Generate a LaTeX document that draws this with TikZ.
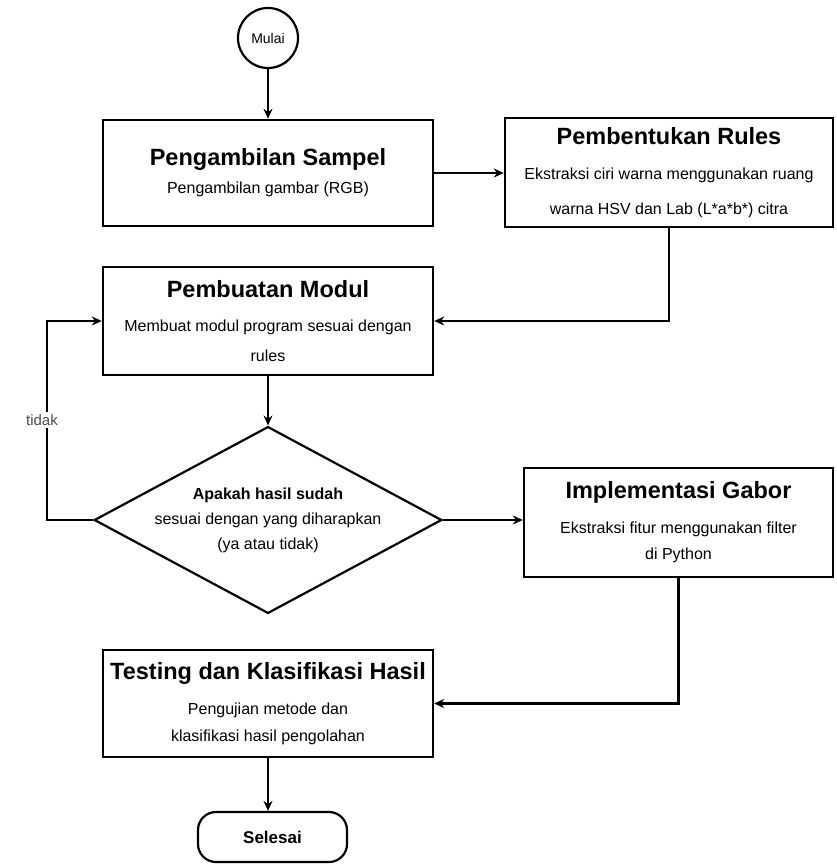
\documentclass[tikz,border=0pt]{standalone}
\usepackage{fontspec}
\setmainfont{Liberation Sans}
\usetikzlibrary{arrows.meta,shapes.geometric}
\newcommand{\ttl}{\fontsize{23.5}{28}\selectfont\bfseries}
\newcommand{\bdy}{\fontsize{16}{28}\selectfont}
\begin{document}
\begin{tikzpicture}[x=1pt,y=-1pt,
  box/.style={draw,line width=2.4pt,minimum width=330pt,minimum height=106pt,inner sep=0pt,align=center,font=\bdy},
  conn/.style={line width=2.2pt,-{Stealth[length=10pt,width=9pt]}},
  plain/.style={line width=2pt}]
\useasboundingbox (0,0) rectangle (836,865);
\node[draw,circle,line width=2.2pt,minimum size=60pt,inner sep=0pt,font=\fontsize{14}{16}\selectfont] (start) at (268,38) {Mulai};
\node[box] (b1) at (268,173) {{\ttl Pengambilan Sampel}\\ Pengambilan gambar (RGB)};
\node[box,minimum width=328pt,minimum height=109pt] (b2) at (669,172.5) {{\ttl Pembentukan Rules}\\[7pt] Ekstraksi ciri warna menggunakan ruang\\[7pt] warna HSV dan Lab (L*a*b*) citra};
\node[box,minimum height=108pt] (b3) at (268,321) {{\ttl Pembuatan Modul}\\[6pt] Membuat modul program sesuai dengan\\[2pt] rules};
\node[draw,diamond,aspect=1.86,line width=2.2pt,minimum width=323pt,minimum height=174pt,inner sep=0pt,align=center,font=\fontsize{16}{25}\selectfont] (dia) at (268,520) {\textbf{Apakah hasil sudah}\\ sesuai dengan yang diharapkan\\ (ya atau tidak)};
\node[box,minimum width=309pt,minimum height=109pt] (b4) at (678.5,522.5) {{\ttl Implementasi Gabor}\\[7pt] Ekstraksi fitur menggunakan filter\\[-2pt] di Python};
\node[box,minimum height=107pt] (b5) at (268,703.5) {{\ttl Testing dan Klasifikasi Hasil}\\[7pt] Pengujian metode dan\\[-1pt] klasifikasi hasil pengolahan};
\node[draw,rounded corners=18pt,line width=2.2pt,minimum width=149pt,minimum height=50pt,inner sep=0pt,font=\fontsize{17}{20}\selectfont\bfseries] (end) at (272.5,837) {Selesai};
\coordinate (lp) at (47,520);
\draw[conn] (start) -- (b1);
\draw[conn] (b1.east) -- (b1.east -| b2.west);
\draw[conn] (b2.south) |- (b3.east);
\draw[conn] (b3) -- (dia);
\draw[conn] (dia.east) -- (dia.east -| b4.west);
\draw[conn] (dia.west) -- (lp) |- (b3.west);
\draw[conn] (b4.south) |- (b5.east);
\draw[conn] (b5.south) -- (b5.south |- end.north);
\node[fill=white,inner sep=2pt,font=\fontsize{15}{18}\selectfont,text=black!70] (tdk) at (42,420) {tidak};
\end{tikzpicture}
\end{document}
